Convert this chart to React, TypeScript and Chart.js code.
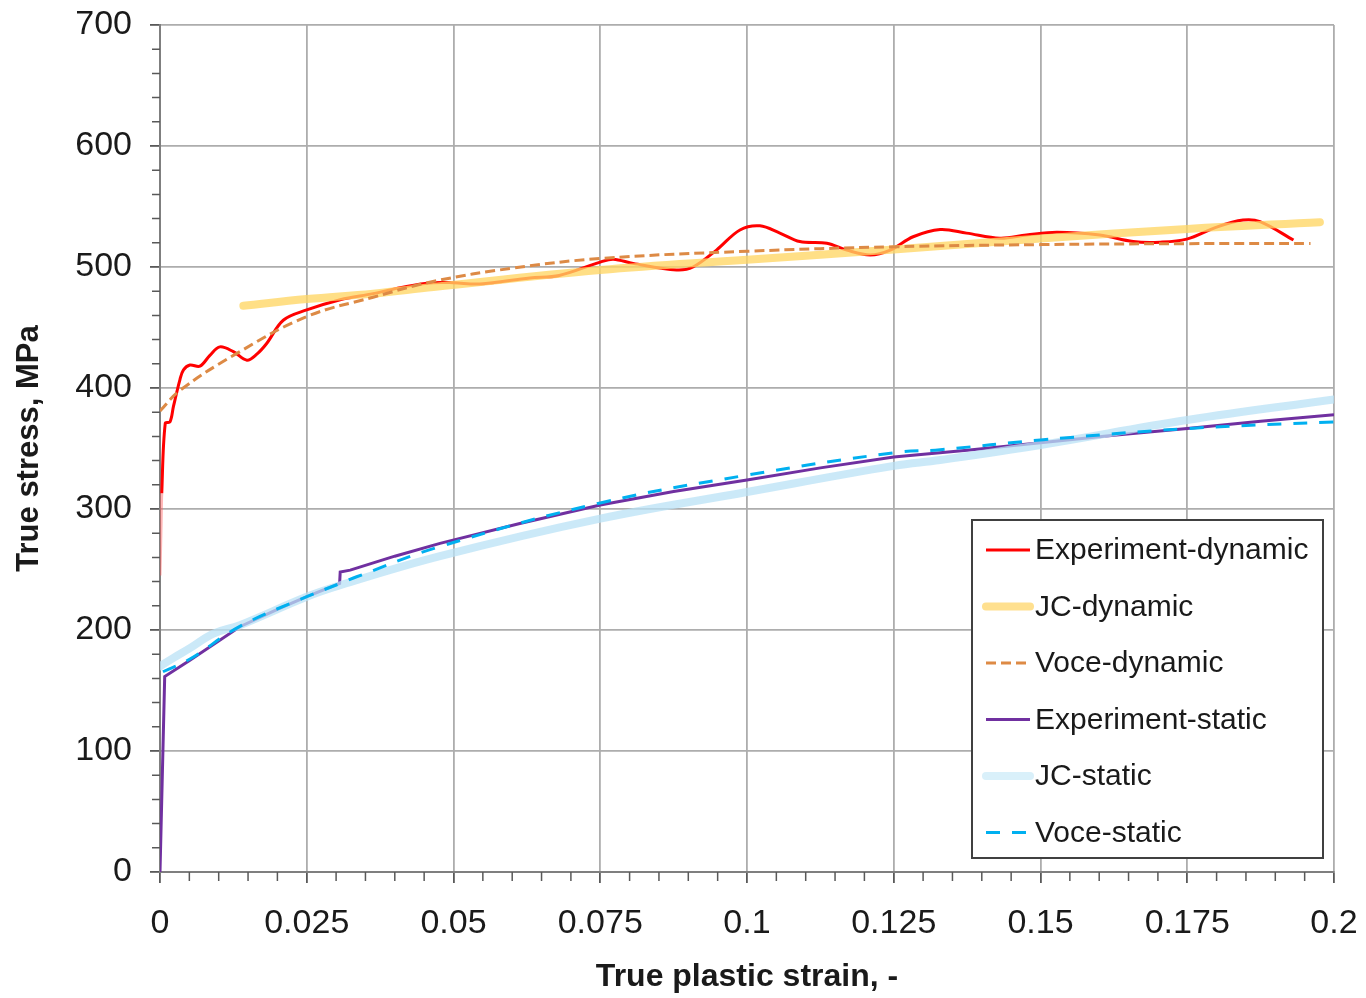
import React, { useEffect, useRef } from "react";
import { Chart, registerables } from "chart.js";

Chart.register(...registerables);

// ---- axis ticks ----
const xTicks = [0, 0.025, 0.05, 0.075, 0.1, 0.125, 0.15, 0.175, 0.2];
const yTicks = [0, 100, 200, 300, 400, 500, 600, 700];

// ---- Experiment-dynamic ----
const expDynStrain = [0, 0.0002, 0.0003, 0.0009, 0.0017, 0.0023, 0.0034, 0.004, 0.0051, 0.0068, 0.0085, 0.0102, 0.0125, 0.0148, 0.0165, 0.0182, 0.021, 0.025, 0.0307, 0.0363, 0.042, 0.0465, 0.05, 0.0545, 0.063, 0.068, 0.075, 0.0772, 0.0806, 0.088, 0.0908, 0.0948, 0.0988, 0.1022, 0.1056, 0.109, 0.1136, 0.117, 0.121, 0.1244, 0.1283, 0.1329, 0.1374, 0.1431, 0.1476, 0.1528, 0.1601, 0.1658, 0.1704, 0.1749, 0.18, 0.1845, 0.1874, 0.1931];
const expDynStress = [245, 290, 313, 371, 372, 385, 407, 415, 419, 418, 427, 434, 430, 423, 428, 437, 456, 464.5, 473, 478, 484, 487, 487, 486, 491, 493, 504, 506.5, 503, 497.5, 500, 514, 530.6, 534, 528, 521, 519.6, 514, 510, 514, 525, 531, 528, 523.7, 526.4, 528.7, 526.4, 521, 520.5, 523, 533, 538.8, 537.5, 522.3];

// ---- JC-dynamic ----
const jcDynStrain = [0.0142, 0.025, 0.0363, 0.0466, 0.075, 0.1, 0.125, 0.15, 0.175, 0.1976];
const jcDynStress = [468, 473.5, 478, 483.5, 497.5, 506, 514.5, 523.5, 531.5, 537];

// ---- Voce-dynamic ----
const voceDynStrain = [0, 0.0034, 0.0131, 0.025, 0.0363, 0.0465, 0.06, 0.075, 0.1, 0.125, 0.15, 0.175, 0.196];
const voceDynStress = [381, 398, 428.6, 459, 475, 488, 499, 507, 513, 516.7, 518.5, 519.3, 519.5];

// ---- Experiment-static ----
const expStaStrain = [0, 0.0008, 0.0051, 0.0136, 0.02, 0.025, 0.0306, 0.0307, 0.0324, 0.04, 0.0477, 0.0613, 0.075, 0.0875, 0.1, 0.1125, 0.125, 0.1375, 0.15, 0.1625, 0.175, 0.1875, 0.2];
const expStaStress = [0, 161.5, 175, 202.7, 217, 227.5, 238.5, 248, 249.5, 261, 271.6, 288, 303.3, 314.5, 324, 334, 343, 348.5, 354.8, 361, 366.6, 372.5, 378];

// ---- JC-static ----
const jcStaStrain = [0, 0.0023, 0.0051, 0.0091, 0.0136, 0.025, 0.0307, 0.0477, 0.075, 0.1, 0.125, 0.1329, 0.15, 0.175, 0.2];
const jcStaStress = [170, 177, 185, 197, 204, 227.5, 237, 261, 292, 314, 335.6, 340.5, 352.9, 373.6, 390.5];

// ---- Voce-static ----
const voceStaStrain = [0.0005, 0.0051, 0.0136, 0.025, 0.0307, 0.0335, 0.0477, 0.075, 0.1, 0.125, 0.1329, 0.15, 0.175, 0.2];
const voceStaStress = [165.5, 176, 203, 227.5, 238.5, 244, 269, 305, 328, 346.5, 349, 357, 366.5, 372];

const seriesNames = ["Experiment-dynamic", "JC-dynamic", "Voce-dynamic", "Experiment-static", "JC-static", "Voce-static"];

const FONT = '"Liberation Sans", Arial, Helvetica, sans-serif';

function pts(xs: number[], ys: number[]) {
  return xs.map((x, i) => ({ x, y: ys[i] }));
}

const boxLegend = {
  id: "boxLegend",
  afterDatasetsDraw(chart: any) {
    const { ctx, chartArea } = chart;
    const w = 351;
    const h = 338;
    const right = chartArea.right - 11;
    const bottom = chartArea.bottom - 14;
    const left = right - w;
    const top = bottom - h;
    ctx.save();
    ctx.fillStyle = "#ffffff";
    ctx.fillRect(left, top, w, h);
    ctx.strokeStyle = "#404040";
    ctx.lineWidth = 2;
    ctx.strokeRect(left, top, w, h);
    const rowH = 56.5;
    chart.data.datasets.forEach((ds: any, i: number) => {
      const y = top + 30 + i * rowH;
      ctx.beginPath();
      ctx.setLineDash(ds.borderDash || []);
      ctx.strokeStyle = ds.legendColor || ds.borderColor;
      ctx.lineWidth = ds.borderWidth;
      ctx.lineCap = ds.borderCapStyle || "butt";
      ctx.moveTo(left + 14, y);
      ctx.lineTo(left + 58, y);
      ctx.stroke();
      ctx.setLineDash([]);
      ctx.fillStyle = "#1a1a1a";
      ctx.font = `30px ${FONT}`;
      ctx.textBaseline = "middle";
      ctx.textAlign = "left";
      ctx.fillText(ds.label, left + 63, y + 1);
    });
    ctx.restore();
  },
};

const minorTicks = {
  id: "minorTicks",
  afterDraw(chart: any) {
    const { ctx, chartArea } = chart;
    const xs = chart.scales.x;
    const ys = chart.scales.y;
    ctx.save();
    ctx.strokeStyle = "#595959";
    ctx.lineWidth = 1.5;
    ctx.beginPath();
    for (let i = 0; i <= 40; i++) {
      if (i % 5 === 0) continue;
      const px = xs.getPixelForValue(i * 0.005);
      ctx.moveTo(px, chartArea.bottom);
      ctx.lineTo(px, chartArea.bottom + 9);
    }
    for (let j = 0; j <= 35; j++) {
      if (j % 5 === 0) continue;
      const py = ys.getPixelForValue(j * 20);
      ctx.moveTo(chartArea.left - 8, py);
      ctx.lineTo(chartArea.left, py);
    }
    ctx.stroke();
    ctx.restore();
  },
};

export default function App() {
  const ref = useRef<HTMLCanvasElement | null>(null);

  useEffect(() => {
    if (!ref.current) return;
    const chart = new Chart(ref.current, {
      type: "scatter",
      data: {
        datasets: [
          {
            label: seriesNames[0],
            data: pts(expDynStrain, expDynStress),
            borderColor: "#ff0000",
            borderWidth: 3,
            showLine: true,
            tension: 0.35,
            pointRadius: 0,
            order: 6,
            segment: {
              borderColor: (c: any) => (c.p1.parsed.y <= 313 ? "rgba(255,90,90,0.45)" : undefined),
            },
          } as any,
          {
            label: seriesNames[1],
            data: pts(jcDynStrain, jcDynStress),
            borderColor: "rgba(255,214,100,0.78)",
            legendColor: "#ffe08f",
            borderWidth: 8,
            borderCapStyle: "round",
            showLine: true,
            tension: 0.4,
            pointRadius: 0,
            order: 5,
          },
          {
            label: seriesNames[2],
            data: pts(voceDynStrain, voceDynStress),
            borderColor: "#dd8a45",
            borderWidth: 3,
            borderDash: [10, 5],
            showLine: true,
            tension: 0.4,
            pointRadius: 0,
            order: 4,
          },
          {
            label: seriesNames[3],
            data: pts(expStaStrain, expStaStress),
            borderColor: "#7030a0",
            borderWidth: 3,
            showLine: true,
            tension: 0,
            pointRadius: 0,
            order: 3,
          },
          {
            label: seriesNames[4],
            data: pts(jcStaStrain, jcStaStress),
            borderColor: "rgba(185,226,246,0.75)",
            legendColor: "#d9f0fa",
            borderWidth: 8,
            borderCapStyle: "round",
            showLine: true,
            tension: 0.4,
            pointRadius: 0,
            order: 2,
          },
          {
            label: seriesNames[5],
            data: pts(voceStaStrain, voceStaStress),
            borderColor: "#00b0f0",
            borderWidth: 3,
            borderDash: [14, 12],
            showLine: true,
            tension: 0.4,
            pointRadius: 0,
            order: 1,
          },
        ] as any,
      },
      options: {
        animation: false,
        responsive: false,
        devicePixelRatio: 1,
        layout: { padding: { left: 0, right: 32, top: 25, bottom: 0 } },
        plugins: {
          legend: { display: false },
          tooltip: { enabled: false },
        },
        scales: {
          x: {
            type: "linear",
            min: 0,
            max: 0.2,
            afterBuildTicks: (s: any) => {
              s.ticks = xTicks.map((v) => ({ value: v }));
            },
            afterFit: (s: any) => {
              s.height = 126;
              s.paddingLeft = 0;
              s.paddingRight = 0;
              s.paddingTop = 0;
              s.paddingBottom = 0;
            },
            grid: {
              color: "#adadad",
              lineWidth: 1.8,
              tickLength: 11,
              tickColor: "#595959",
            },
            border: { color: "#7f7f7f", width: 2 },
            ticks: {
              color: "#1a1a1a",
              font: { family: FONT, size: 34 },
              padding: 20,
              maxRotation: 0,
              autoSkip: false,
              callback: (v: any) => String(parseFloat(Number(v).toFixed(3))),
            },
            title: {
              display: true,
              text: "True plastic strain, -",
              color: "#1a1a1a",
              font: { family: FONT, size: 32, weight: "bold" },
              padding: { top: 0, bottom: 2 },
            },
          },
          y: {
            type: "linear",
            min: 0,
            max: 700,
            afterBuildTicks: (s: any) => {
              s.ticks = yTicks.map((v) => ({ value: v }));
            },
            afterFit: (s: any) => {
              s.width = 160;
              s.paddingLeft = 0;
              s.paddingRight = 0;
              s.paddingTop = 0;
              s.paddingBottom = 0;
            },
            grid: {
              color: "#adadad",
              lineWidth: 1.8,
              tickLength: 10,
              tickColor: "#595959",
            },
            border: { color: "#7f7f7f", width: 2 },
            ticks: {
              color: "#1a1a1a",
              font: { family: FONT, size: 34 },
              padding: 18,
              autoSkip: false,
            },
            title: {
              display: true,
              text: "True stress, MPa",
              color: "#1a1a1a",
              font: { family: FONT, size: 31, weight: "bold" },
              padding: { top: 11, bottom: 0 },
            },
          },
        },
      } as any,
      plugins: [minorTicks, boxLegend],
    });
    return () => chart.destroy();
  }, []);

  return (
    <div style={{ position: "fixed", left: 0, top: 0, width: 1366, height: 998, background: "#ffffff" }}>
      <canvas ref={ref} width={1366} height={998} style={{ display: "block" }} />
    </div>
  );
}
